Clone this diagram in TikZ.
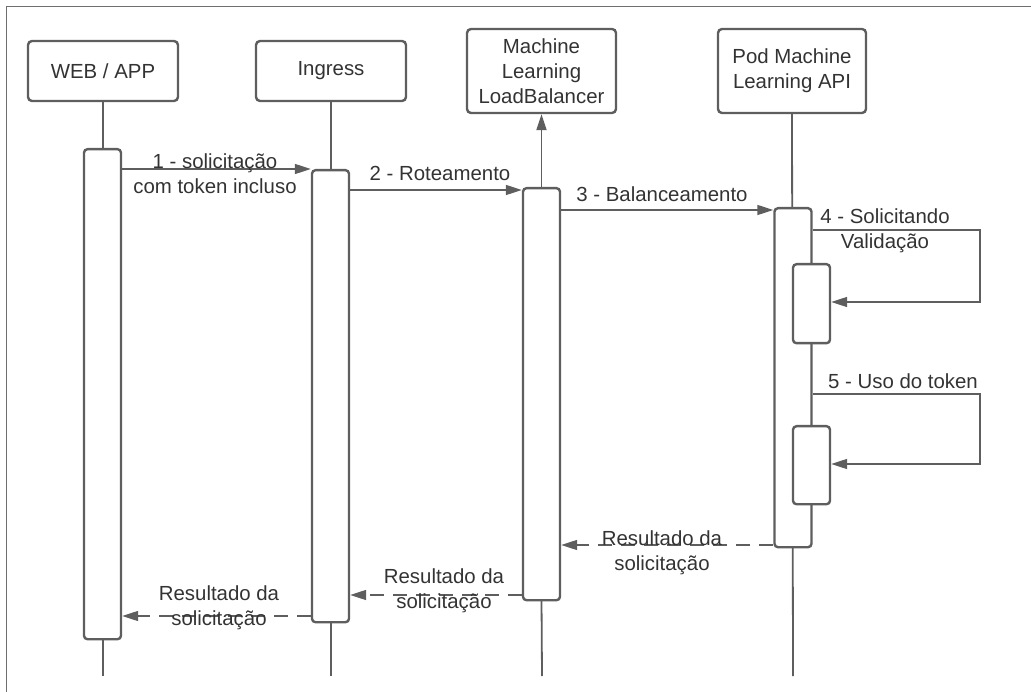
\documentclass[tikz,border=0pt]{standalone}
\usepackage{fontspec}
\setmainfont{Liberation Sans}
\usetikzlibrary{arrows.meta}
\definecolor{linegray}{HTML}{5E5E5E}
\definecolor{textgray}{HTML}{333333}
\begin{document}
\begin{tikzpicture}[x=1pt,y=-1pt,
  every node/.style={font=\fontsize{20.4}{25}\selectfont, text=textgray},
  head/.style={draw=linegray, line width=2.4pt, rounded corners=4pt, fill=white,
    inner sep=0pt, align=center},
  act/.style={draw=linegray, line width=2.4pt, rounded corners=3.5pt, fill=white,
    minimum width=37pt, inner sep=0pt, anchor=north},
  life/.style={draw=linegray, line width=1.8pt},
  msg/.style={draw=linegray, line width=1.5pt, -{Triangle[length=16pt,width=10pt]}},
  ret/.style={msg, dash pattern=on 14pt off 9pt},
  lbl/.style={align=center, inner sep=0pt},
  frame/.style={draw=linegray!90, line width=1pt}]
\useasboundingbox (0,0) rectangle (1031,692);
% frame
\draw[frame] (6,692) -- (6,7) -- (1031,7);

% participants
\node[head, minimum width=150pt, minimum height=60pt] (web) at (103,71) {WEB / APP};
\node[head, minimum width=150pt, minimum height=60pt] (ing) at (331,71) {Ingress};
\node[head, minimum width=149pt, minimum height=84pt] (lb) at (541.5,71) {Machine\\Learning\\LoadBalancer};
\node[head, minimum width=148pt, minimum height=84pt] (pod) at (792,71) {Pod Machine\\Learning API};

% lifeline ends
\coordinate (webend) at (103,676);
\coordinate (ingend) at (331,676);
\coordinate (lbend) at (542,676);
\coordinate (podend) at (793,676);
\draw[life] (web.south) -- (webend);
\draw[life] (ing.south) -- (ingend);
\draw[life] (pod.south) -- (podend);
\draw[life] (lb.south |- 0,599) -- (lbend);

% activations
\node[act, minimum height=490pt] (wa) at (102.5,148) {};
\node[act, minimum height=452pt] (ia) at (330.5,169) {};
\node[act, minimum height=412pt] (la) at (541.5,187) {};
\node[act, minimum height=339pt] (pa) at (793,207) {};
\node[act, minimum height=79pt] (n1) at (811.5,263) {};
\node[act, minimum height=78pt] (n2) at (811.5,425) {};

% load balancer lifeline up to its header
\draw[msg, line width=1.8pt] (la.north) -- (lb.south);

% requests
\draw[msg] (wa.east |- 0,169) -- (ia.west |- 0,169);
\node[lbl] (t1) at (215,173.5) {1 - solicitação\\com token incluso};
\draw[msg] (ia.east |- 0,190) -- (la.west |- 0,190);
\node[lbl, anchor=base] (t2) at (440,181) {2 - Roteamento};
\draw[msg] (la.east |- 0,210) -- (pa.west |- 0,210);
\node[lbl, anchor=base] (t3) at (662,202) {3 - Balanceamento};

% self calls
\coordinate (c4a) at (980,230);
\coordinate (c4b) at (980,302);
\draw[msg] (pa.east |- c4a) -- (c4a) -- (c4b) -- (n1.east |- c4b);
\node[lbl] (t4) at (885,231) {4 - Solicitando\\Validação};
\coordinate (c5a) at (980,394);
\coordinate (c5b) at (980,464);
\draw[msg] (pa.east |- c5a) -- (c5a) -- (c5b) -- (n2.east |- c5b);
\node[lbl, anchor=base] (t5) at (903,389) {5 - Uso do token};

% responses
\draw[ret] (pa.west |- 0,545) -- (la.east |- 0,545);
\node[lbl] (r1) at (662,552.5) {Resultado da\\solicitação};
\draw[ret] (la.west |- 0,595) -- (ia.east |- 0,595);
\node[lbl] (r2) at (444,590.5) {Resultado da\\solicitação};
\draw[ret] (ia.west |- 0,616) -- (wa.east |- 0,616);
\node[lbl] (r3) at (219,608) {Resultado da\\solicitação};
\end{tikzpicture}
\end{document}
